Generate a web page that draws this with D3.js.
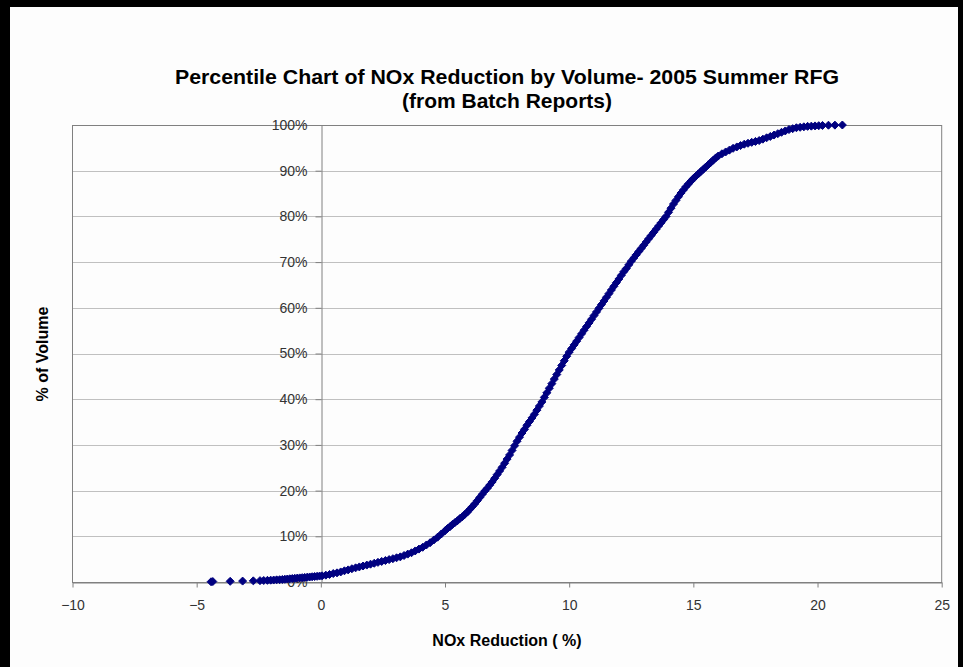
<!DOCTYPE html>
<html>
<head>
<meta charset="utf-8">
<script src="https://cdn.jsdelivr.net/npm/d3@7"></script>
<style>
  body { margin: 0; background: #fff; }
  svg { display: block; font-family: "Liberation Sans", Arial, sans-serif; }
</style>
</head>
<body>
<div id="chart"></div>
<script>
// NOx reduction (%) of each batch
const noxReduction = [
  -4.42, -4.35, -3.65, -3.15, -2.72, -2.45, -2.3, -2.15, -2.02, -1.9, -1.78, -1.66, -1.55, -1.45,
  -1.35, -1.25, -1.15, -1.05, -0.95, -0.85, -0.75, -0.65, -0.55, -0.45, -0.35, -0.25, -0.15, -0.05,
  0.05, 0.2, 0.35, 0.5, 0.65, 0.8, 0.95, 1.1, 1.25, 1.4, 1.55, 1.7, 1.85, 2.0, 2.15, 2.3, 2.45,
  2.6, 2.75, 2.9, 3.05, 3.2, 3.35, 3.5, 3.65, 3.8, 3.95, 4.1, 4.25, 4.4, 4.55, 4.7, 4.85, 5.0,
  5.1, 5.2, 5.3, 5.4, 5.5, 5.6, 5.7, 5.8, 5.9, 6.0, 6.1, 6.2, 6.3, 6.4, 6.5, 6.6, 6.7, 6.8, 6.9,
  7.0, 7.1, 7.2, 7.3, 7.4, 7.5, 7.6, 7.7, 7.8, 7.9, 8.0, 8.1, 8.2, 8.3, 8.4, 8.5, 8.6, 8.7, 8.8,
  8.9, 9.0, 9.1, 9.2, 9.3, 9.4, 9.5, 9.6, 9.7, 9.8, 9.9, 10.0, 10.1, 10.2, 10.3, 10.4, 10.5,
  10.6, 10.7, 10.8, 10.9, 11.0, 11.1, 11.2, 11.3, 11.4, 11.5, 11.6, 11.7, 11.8, 11.9, 12.0,
  12.1, 12.2, 12.3, 12.4, 12.5, 12.6, 12.7, 12.8, 12.9, 13.0, 13.1, 13.2, 13.3, 13.4, 13.5,
  13.6, 13.7, 13.8, 13.9, 14.0, 14.1, 14.2, 14.3, 14.4, 14.5, 14.6, 14.7, 14.8, 14.9, 15.0,
  15.1, 15.2, 15.3, 15.4, 15.5, 15.6, 15.7, 15.8, 15.9, 16.0, 16.15, 16.3, 16.45, 16.6, 16.75,
  16.9, 17.05, 17.2, 17.35, 17.5, 17.65, 17.8, 17.95, 18.1, 18.25, 18.4, 18.55, 18.7, 18.85,
  19.0, 19.15, 19.3, 19.45, 19.6, 19.75, 19.9, 20.05, 20.2, 20.44, 20.7, 21.0
];

// cumulative % of volume for the same batches
const volumePct = [
  0.05, 0.1, 0.15, 0.2, 0.25, 0.3, 0.33, 0.36, 0.4, 0.43, 0.47, 0.5, 0.55, 0.6,
  0.65, 0.7, 0.75, 0.8, 0.85, 0.9, 0.95, 1.0, 1.05, 1.1, 1.15, 1.2, 1.25, 1.3,
  1.35, 1.5, 1.65, 1.85, 2.0, 2.2, 2.45, 2.65, 2.9, 3.1, 3.3, 3.5, 3.7, 3.9, 4.1, 4.3, 4.5,
  4.7, 4.9, 5.1, 5.3, 5.5, 5.8, 6.1, 6.4, 6.8, 7.2, 7.6, 8.1, 8.6, 9.2, 9.8, 10.5, 11.2,
  11.7, 12.1, 12.6, 13.0, 13.4, 13.9, 14.3, 14.8, 15.3, 15.9, 16.5, 17.1, 17.8, 18.5, 19.2, 19.9, 20.5, 21.2, 21.9,
  22.7, 23.5, 24.3, 25.1, 26.0, 26.9, 27.8, 28.8, 29.8, 30.8, 31.7, 32.6, 33.4, 34.3, 35.1, 35.9, 36.7, 37.6, 38.5,
  39.4, 40.4, 41.4, 42.4, 43.4, 44.4, 45.4, 46.4, 47.4, 48.4, 49.4, 50.3, 51.1, 51.9, 52.7, 53.5, 54.3,
  55.1, 55.9, 56.7, 57.5, 58.3, 59.1, 59.9, 60.7, 61.5, 62.3, 63.1, 63.9, 64.7, 65.5, 66.3,
  67.1, 67.9, 68.6, 69.4, 70.2, 70.9, 71.6, 72.3, 73.0, 73.7, 74.4, 75.1, 75.8, 76.5, 77.2,
  77.9, 78.6, 79.3, 80.0, 80.9, 81.8, 82.7, 83.5, 84.3, 85.1, 85.8, 86.5, 87.1, 87.7, 88.3,
  88.8, 89.3, 89.8, 90.3, 90.8, 91.3, 91.8, 92.3, 92.8, 93.2, 93.7, 94.1, 94.5, 94.9, 95.2,
  95.5, 95.8, 96.0, 96.2, 96.4, 96.6, 96.9, 97.2, 97.5, 97.8, 98.1, 98.4, 98.7, 99.0,
  99.2, 99.4, 99.5, 99.6, 99.7, 99.75, 99.8, 99.85, 99.9, 99.95, 99.97, 100
];

const xTicks = [-10, -5, 0, 5, 10, 15, 20, 25];
const yTicks = [0, 0.1, 0.2, 0.3, 0.4, 0.5, 0.6, 0.7, 0.8, 0.9, 1];

const points = noxReduction.map((v, i) => ({ nox: v, pct: volumePct[i] / 100 }));

const width = 963, height = 667;
const plot = { left: 72.5, right: 941.7, top: 125, bottom: 582 };

const svg = d3.select("#chart").append("svg").attr("width", width).attr("height", height);

// white page with the black frame
svg.append("rect").attr("width", width).attr("height", height).attr("fill", "#000");
svg.append("rect").attr("x", 10).attr("y", 7).attr("width", width - 15).attr("height", height - 7).attr("fill", "#fdfdfd");

const x = d3.scaleLinear().domain([-10, 25]).range([plot.left, plot.right]);
const y = d3.scaleLinear().domain([0, 1]).range([plot.bottom, plot.top]);

// horizontal gridlines
svg.append("g")
  .selectAll("line")
  .data(yTicks.slice(1, -1))
  .enter().append("line")
  .attr("x1", plot.left).attr("x2", plot.right)
  .attr("y1", d => Math.round(y(d)) + 0.5).attr("y2", d => Math.round(y(d)) + 0.5)
  .attr("stroke", "#c0c0c0");

// plot area frame
svg.append("rect")
  .attr("x", plot.left).attr("y", plot.top + 0.5)
  .attr("width", plot.right - plot.left).attr("height", plot.bottom - plot.top)
  .attr("fill", "none").attr("stroke", "#808080");

// x axis along the bottom
const xAxis = svg.append("g")
  .attr("transform", `translate(0,${plot.bottom + 0.5})`)
  .call(d3.axisBottom(x).tickValues(xTicks).tickSize(5).tickSizeOuter(0).tickPadding(13));

// y axis crossing at x = 0
const yAxis = svg.append("g")
  .attr("transform", `translate(${Math.round(x(0)) + 0.5},0)`)
  .call(d3.axisLeft(y).tickValues(yTicks).tickFormat(d3.format(".0%")).tickSize(6).tickSizeOuter(0).tickPadding(8));

[xAxis, yAxis].forEach(g => {
  g.selectAll(".domain").attr("stroke", "#808080");
  g.selectAll(".tick line").attr("stroke", "#808080");
  g.selectAll("text").attr("fill", "#333").style("font-size", "14px")
    .style("font-family", "'Liberation Sans', Arial, sans-serif");
});

// data markers (diamonds)
svg.append("g")
  .selectAll("path")
  .data(points)
  .enter().append("path")
  .attr("transform", d => `translate(${x(d.nox)},${y(d.pct)})`)
  .attr("d", "M0,-4L4,0L0,4L-4,0Z")
  .attr("fill", "#000080")
  .attr("stroke", "#000080")
  .attr("stroke-width", 1);

// titles
svg.append("text")
  .attr("x", 507).attr("y", 84)
  .attr("text-anchor", "middle")
  .attr("textLength", 664).attr("lengthAdjust", "spacingAndGlyphs")
  .style("font-size", "21px").style("font-weight", "bold")
  .text("Percentile Chart of NOx Reduction by Volume- 2005 Summer RFG");

svg.append("text")
  .attr("x", 507).attr("y", 108)
  .attr("text-anchor", "middle")
  .style("font-size", "21px").style("font-weight", "bold")
  .text("(from Batch Reports)");

svg.append("text")
  .attr("x", 507).attr("y", 646)
  .attr("text-anchor", "middle")
  .style("font-size", "16px").style("font-weight", "bold")
  .text("NOx Reduction ( %)");

svg.append("text")
  .attr("transform", "translate(48,354) rotate(-90)")
  .attr("text-anchor", "middle")
  .style("font-size", "16px").style("font-weight", "bold")
  .text("% of Volume");
</script>
</body>
</html>
